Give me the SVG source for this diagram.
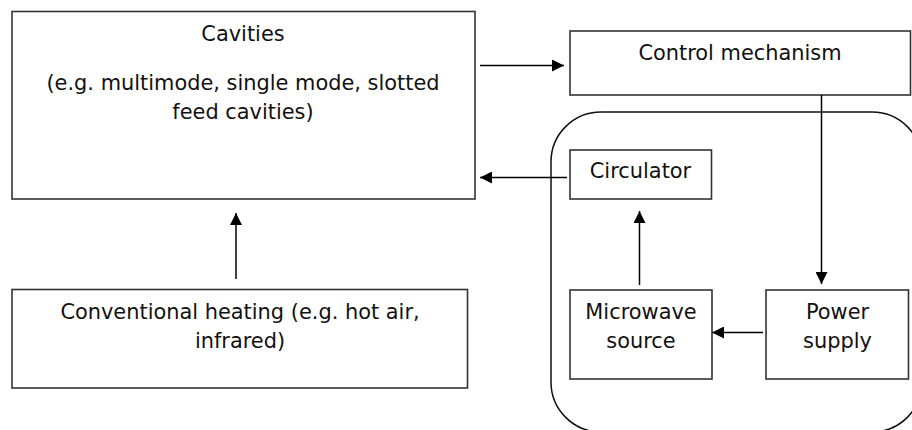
<svg xmlns="http://www.w3.org/2000/svg" width="912" height="430" viewBox="0 0 912 430">
<defs>
<marker id="arr" viewBox="0 0 10 10" refX="10" refY="5" markerWidth="12" markerHeight="12" markerUnits="userSpaceOnUse" orient="auto">
<path d="M0,0 L10,5 L0,10 z" fill="#000"/>
</marker>
<style>
.box{fill:#fff;stroke:#333;stroke-width:1.6}
.cont{fill:none;stroke:#111;stroke-width:1.5}
.t{font-family:"DejaVu Sans",Verdana,sans-serif;font-size:20.9px;fill:#111;text-anchor:middle}
.c{stroke:#000;stroke-width:1.5;fill:none;marker-end:url(#arr)}
</style>
</defs>
<rect width="912" height="430" fill="#fff"/>
<g id="container"><rect class="cont" x="551" y="112" width="371" height="320" rx="50" ry="50"/></g>
<g id="cavities">
<rect class="box" x="12" y="11.5" width="463" height="187.5"/>
<text class="t" x="243" y="41">Cavities</text>
<text class="t" x="243" y="90">(e.g. multimode, single mode, slotted</text>
<text class="t" x="243" y="119">feed cavities)</text>
</g>
<g id="control">
<rect class="box" x="570" y="31" width="340.5" height="64"/>
<text class="t" x="740" y="60">Control mechanism</text>
</g>
<g id="circulator">
<rect class="box" x="570" y="150" width="141.5" height="49"/>
<text class="t" x="640.5" y="178">Circulator</text>
</g>
<g id="microwave">
<rect class="box" x="570" y="290" width="142" height="89"/>
<text class="t" x="641" y="319">Microwave</text>
<text class="t" x="641" y="348">source</text>
</g>
<g id="power">
<rect class="box" x="766" y="290" width="142.5" height="89"/>
<text class="t" x="837.5" y="319">Power</text>
<text class="t" x="837.5" y="348">supply</text>
</g>
<g id="conventional">
<rect class="box" x="12" y="289.5" width="455.5" height="98.5"/>
<text class="t" x="240" y="319">Conventional heating (e.g. hot air,</text>
<text class="t" x="240" y="348">infrared)</text>
</g>
<g id="connectors">
<line class="c" x1="480" y1="65.5" x2="564" y2="65.5"/>
<line class="c" x1="567" y1="177.5" x2="480" y2="177.5"/>
<line class="c" x1="821.5" y1="95" x2="821.5" y2="284"/>
<line class="c" x1="763" y1="332.5" x2="712" y2="332.5"/>
<line class="c" x1="639.5" y1="285" x2="639.5" y2="211"/>
<line class="c" x1="236" y1="279" x2="236" y2="213"/>
</g>
</svg>
